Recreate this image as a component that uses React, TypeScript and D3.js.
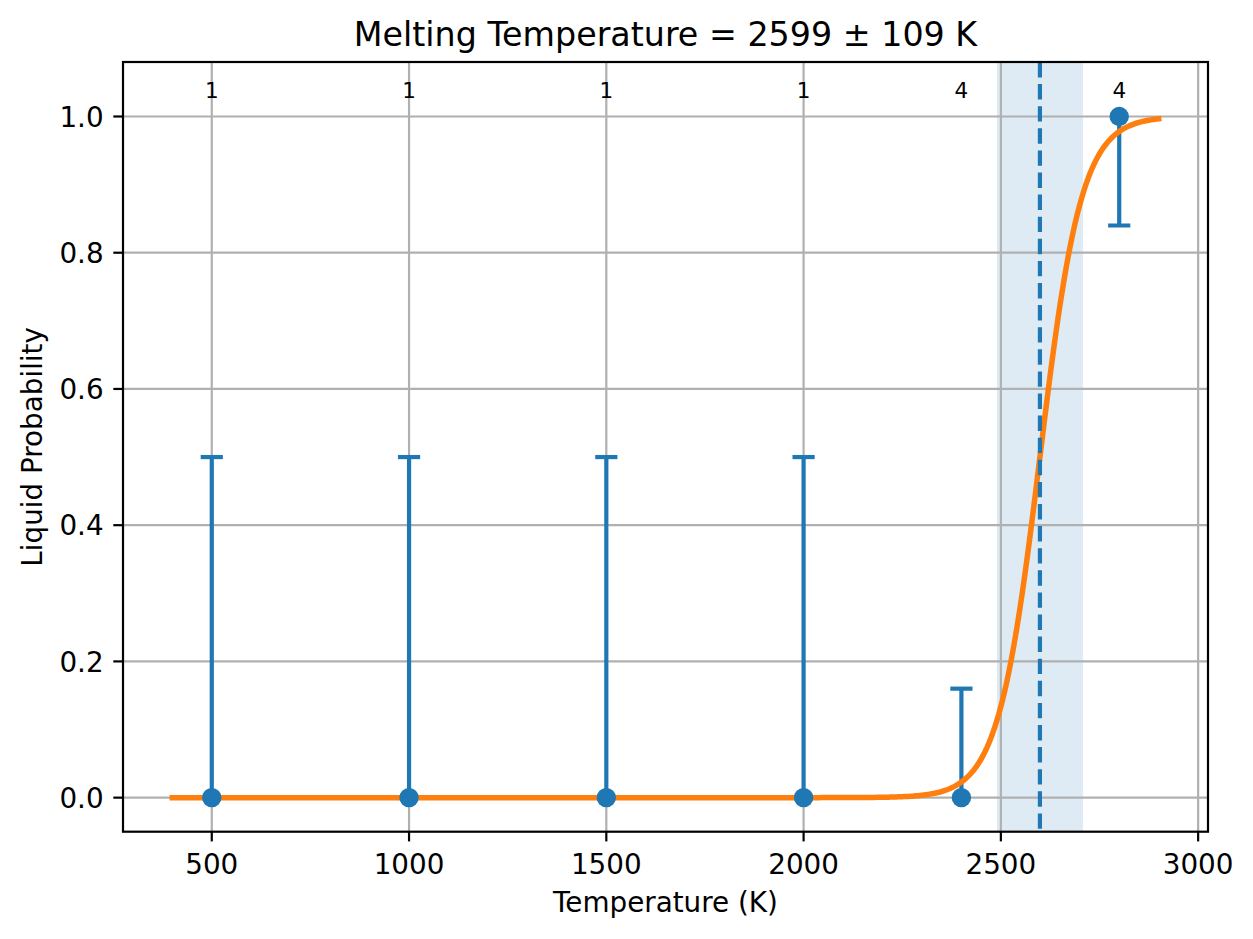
import React from 'react';
import * as d3 from 'd3';

// observed points: temperature, liquid fraction, asymmetric error, sample count
const temps = [500, 1000, 1500, 2000, 2400, 2800];
const liquidProb = [0, 0, 0, 0, 0, 1];
const errLower = [0, 0, 0, 0, 0, 0.16];
const errUpper = [0.5, 0.5, 0.5, 0.5, 0.16, 0];
const counts = [1, 1, 1, 1, 4, 4];

// fitted sigmoid
const meltT = 2599;
const meltErr = 109;
const fitWidth = 53;
const fitRange = [400, 2900];

const xTicks = [500, 1000, 1500, 2000, 2500, 3000];
const yTicks = [0, 0.2, 0.4, 0.6, 0.8, 1.0];

const W = 1253;
const H = 939;
const m = { left: 123, right: 1208, top: 62, bottom: 831.7 };

const BLUE = '#1f77b4';
const ORANGE = '#ff7f0e';
const GRID = '#b0b0b0';
const FONT = 'DejaVu Sans, sans-serif';

const App: React.FC = () => {
  const x = d3.scaleLinear().domain([275, 3025]).range([m.left, m.right]);
  const y = d3.scaleLinear().domain([-0.05, 1.08]).range([m.bottom, m.top]);

  const fitX = d3.range(fitRange[0], fitRange[1] + 0.1, 5);
  const fit = (t: number) => 1 / (1 + Math.exp(-(t - meltT) / fitWidth));
  const line = d3.line<number>().x(t => x(t)).y(t => y(fit(t)));

  const cap = 11.1;

  return (
    <svg width={W} height={H} style={{ position: 'absolute', left: 0, top: 0, background: '#fff' }}
      fontFamily={FONT}>
      <defs>
        <clipPath id="plot">
          <rect x={m.left} y={m.top} width={m.right - m.left} height={m.bottom - m.top} />
        </clipPath>
      </defs>

      {/* uncertainty band */}
      <rect x={x(meltT - meltErr)} y={m.top} width={x(meltT + meltErr) - x(meltT - meltErr)}
        height={m.bottom - m.top} fill={BLUE} fillOpacity={0.15} />

      {/* grid */}
      <g stroke={GRID} strokeWidth={2.2}>
        {xTicks.map(t => <line key={'gx' + t} x1={x(t)} x2={x(t)} y1={m.top} y2={m.bottom} />)}
        {yTicks.map(t => <line key={'gy' + t} x1={m.left} x2={m.right} y1={y(t)} y2={y(t)} />)}
      </g>

      <g clipPath="url(#plot)">
        {/* error bars, caps only where the error is non-zero */}
        <g stroke={BLUE} strokeWidth={4.2}>
          {temps.map((t, i) => {
            const lo = y(liquidProb[i] - errLower[i]);
            const hi = y(liquidProb[i] + errUpper[i]);
            return (
              <g key={'eb' + t}>
                <line x1={x(t)} x2={x(t)} y1={lo} y2={hi} />
                {errLower[i] > 0 && <line x1={x(t) - cap} x2={x(t) + cap} y1={lo} y2={lo} />}
                {errUpper[i] > 0 && <line x1={x(t) - cap} x2={x(t) + cap} y1={hi} y2={hi} />}
              </g>
            );
          })}
        </g>

        {/* fitted curve */}
        <path d={line(fitX) || ''} fill="none" stroke={ORANGE} strokeWidth={5.5} strokeLinecap="square" />

        {/* markers */}
        {temps.map((t, i) => (
          <circle key={'pt' + t} cx={x(t)} cy={y(liquidProb[i])} r={9.7} fill={BLUE} />
        ))}

        {/* melting temperature */}
        <line x1={x(meltT)} x2={x(meltT)} y1={m.top} y2={m.bottom} stroke={BLUE} strokeWidth={4.2}
          strokeDasharray="15.4,6.7" />
      </g>

      {/* counts */}
      {temps.map((t, i) => (
        <text key={'n' + t} x={x(t)} y={y(1.02) - 4.5} fontSize={21.5} textAnchor="middle" fill="#000">
          {counts[i]}
        </text>
      ))}

      {/* spines */}
      <rect x={m.left} y={m.top} width={m.right - m.left} height={m.bottom - m.top} fill="none"
        stroke="#000" strokeWidth={2.2} />

      {/* x axis */}
      {xTicks.map(t => (
        <g key={'xt' + t}>
          <line x1={x(t)} x2={x(t)} y1={m.bottom} y2={m.bottom + 9.7} stroke="#000" strokeWidth={2.2} />
          <text x={x(t)} y={874} fontSize={27.8} textAnchor="middle">{t}</text>
        </g>
      ))}
      {/* y axis */}
      {yTicks.map(t => (
        <g key={'yt' + t}>
          <line x1={m.left - 9.7} x2={m.left} y1={y(t)} y2={y(t)} stroke="#000" strokeWidth={2.2} />
          <text x={m.left - 19.4} y={y(t) + 10.2} fontSize={27.8} textAnchor="end">{t.toFixed(1)}</text>
        </g>
      ))}

      <text x={(m.left + m.right) / 2} y={911.7} fontSize={27.8} textAnchor="middle">Temperature (K)</text>
      <text transform={`translate(41.7,${(m.top + m.bottom) / 2}) rotate(-90)`} fontSize={27.8}
        textAnchor="middle">Liquid Probability</text>

      <text x={(m.left + m.right) / 2} y={45.5} fontSize={33.3} textAnchor="middle">
        {`Melting Temperature = ${meltT} ± ${meltErr} K`}
      </text>
    </svg>
  );
};

export default App;
